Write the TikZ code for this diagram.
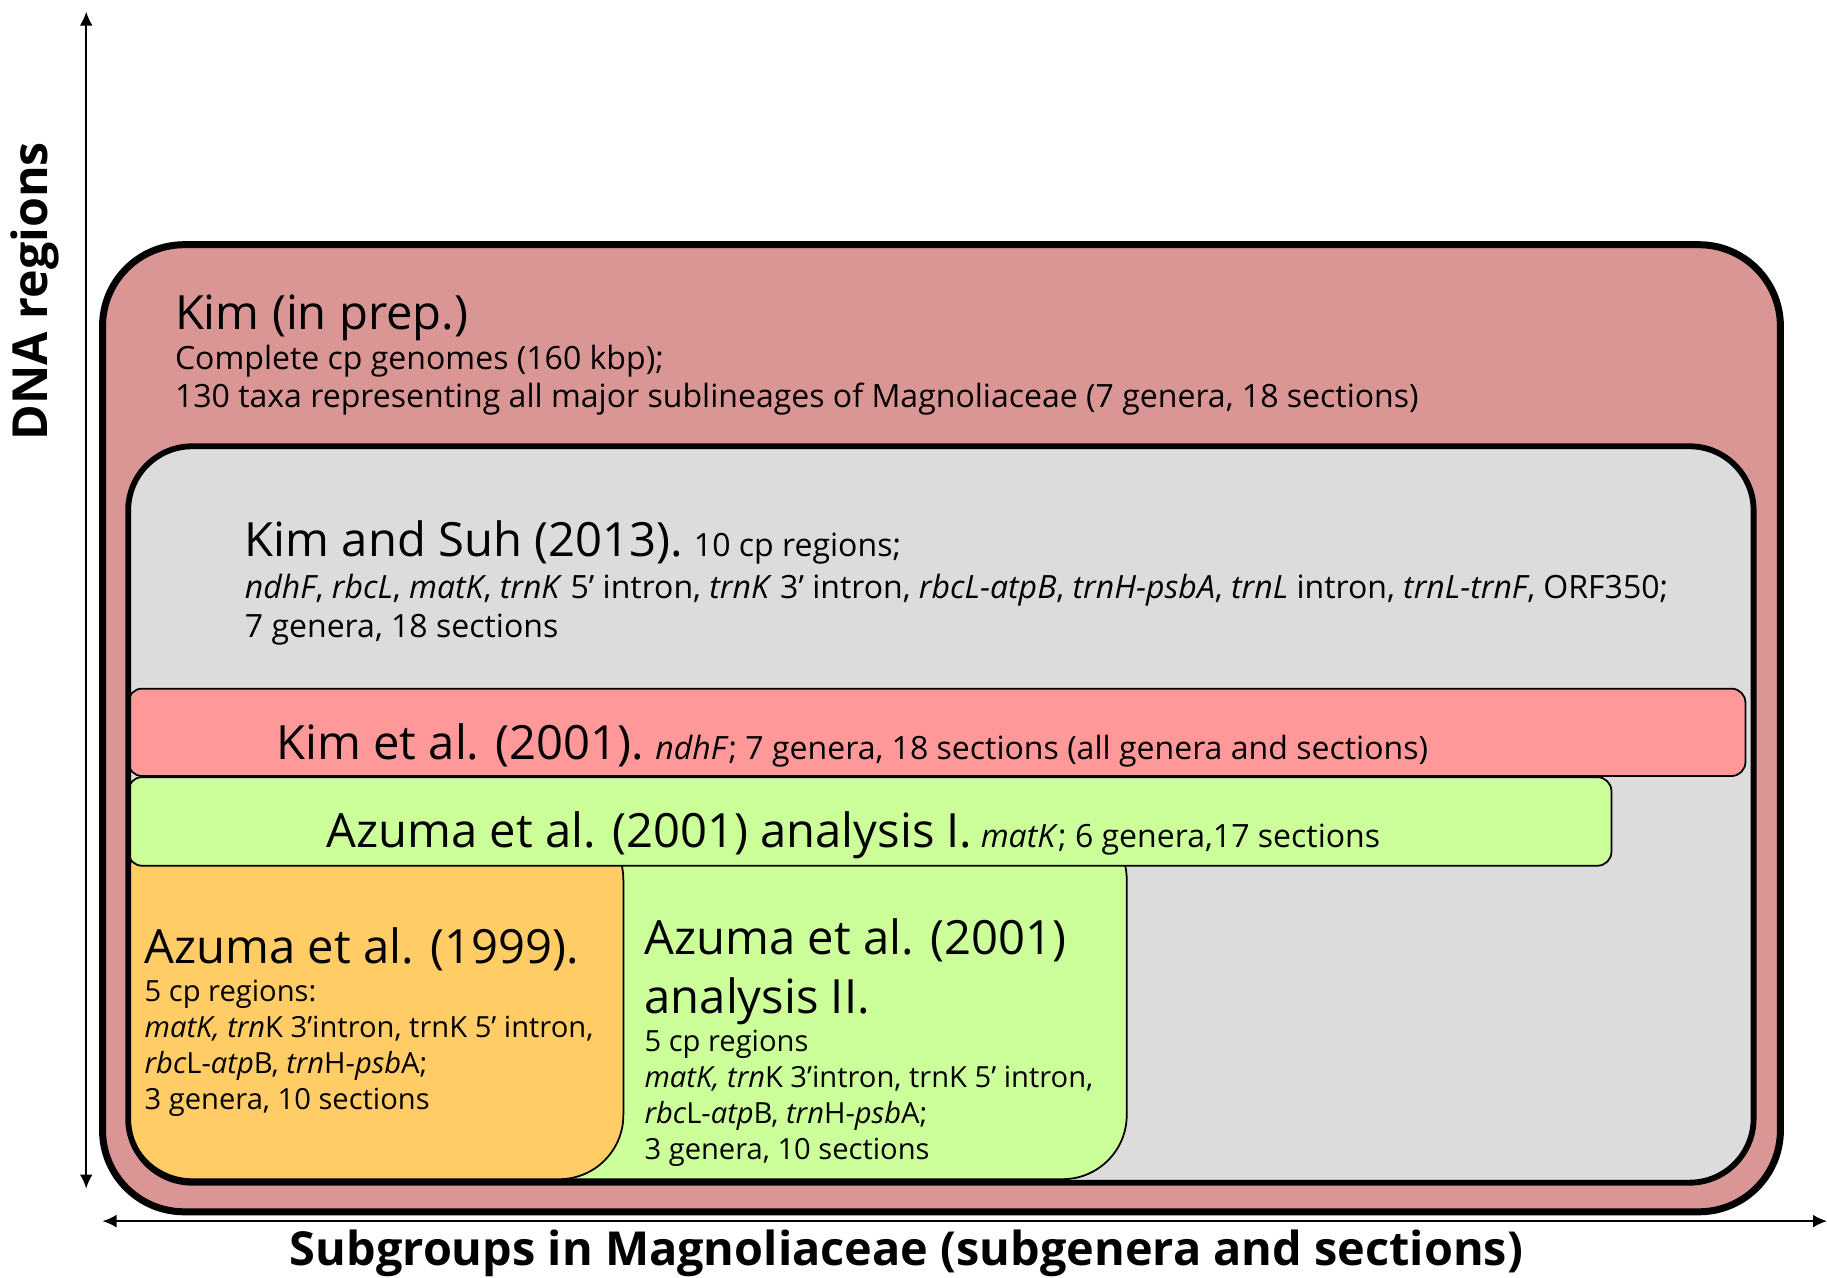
\documentclass[tikz,border=0pt]{standalone}
\usepackage{fontspec}
\setmainfont{Open Sans}
\usetikzlibrary{arrows.meta}
\definecolor{prepred}{HTML}{DA9694}
\definecolor{suhgray}{HTML}{DCDCDC}
\definecolor{ndhred}{HTML}{FF9999}
\definecolor{matgreen}{HTML}{CCFF99}
\definecolor{azorange}{HTML}{FFCC66}
\newcommand\headfont{\fontsize{40.5}{51}\selectfont}
\begin{document}
\begin{tikzpicture}[x=1pt,y=-1pt,>={Latex[length=12pt,width=11pt]},
    thinbox/.style={draw=black,line width=1.5pt},
    txt/.style={inner sep=0pt,anchor=base west,align=left,font=\fontsize{27.5}{33}\selectfont},
    lowtxt/.style={txt,font=\fontsize{25}{30.8}\selectfont},
    axlabel/.style={inner sep=0pt,font=\bfseries\fontsize{40.2}{46}\selectfont}]
\useasboundingbox (0,0) rectangle (1568,1096);
% axes
\coordinate (ybot) at (74,1020);
\coordinate (ytop) at (74,10);
\coordinate (xleft) at (88,1048);
\coordinate (xright) at (1568,1048);
\draw[<->,line width=1.5pt](ybot)--(ytop);
\draw[<->,line width=1.5pt](xleft)--(xright);
\node[axlabel,rotate=90,font=\bfseries\fontsize{41.5}{46}\selectfont] (ylab) at (30,250) {DNA regions};
\node[axlabel] (xlab) at (778,1076) {Subgroups in Magnoliaceae (subgenera and sections)};
% boxes
\filldraw[fill=prepred,line width=6pt,rounded corners=70] (88,210) rectangle (1528,1040);
\fill[suhgray,rounded corners=55] (110,383) rectangle (1505,1015);
\filldraw[thinbox,fill=matgreen,rounded corners=55] (110,700) rectangle (967,1012);
\filldraw[thinbox,fill=azorange,rounded corners=55] (110,700) rectangle (535,1012);
\filldraw[thinbox,fill=ndhred,rounded corners=12] (110,591) rectangle (1498,666);
\filldraw[thinbox,fill=matgreen,rounded corners=12] (110,667) rectangle (1383,743);
\draw[line width=5pt,rounded corners=55] (110,383) rectangle (1505,1015);
% texts
\node[txt] (prep) at (150,283) {\headfont Kim (in prep.)};
\node[txt] (preptxt) at (150,350) {Complete cp genomes (160 kbp);\\130 taxa representing all major sublineages of Magnoliaceae (7 genera, 18 sections)};
\node[txt] (suh) at (210,478) {{\headfont Kim and Suh (2013).} 10 cp regions;};
\node[txt] (suhtxt) at (210,547) {\textit{ndhF}, \textit{rbcL}, \textit{matK}, \textit{trnK} 5’ intron, \textit{trnK} 3’ intron, \textit{rbcL-atpB}, \textit{trnH-psbA}, \textit{trnL} intron, \textit{trnL-trnF}, ORF350;\\7 genera, 18 sections};
\node[txt] (kim01) at (237,652) {{\headfont Kim et al. (2001).} \textit{ndhF}; 7 genera, 18 sections (all genera and sections)};
\node[txt] (az1) at (280,727) {{\headfont Azuma et al. (2001) analysis I.} \textit{matK}; 6 genera,17 sections};
\node[txt] (az99) at (124,827) {\headfont Azuma et al. (1999).};
\node[lowtxt] (az99txt) at (124,952) {5 cp regions:\\\textit{matK, trn}K 3’intron, trnK 5’ intron,\\\textit{rbc}L-\textit{atp}B, \textit{trn}H-\textit{psb}A;\\3 genera, 10 sections};
\node[txt,font=\headfont] (az2) at (553,870) {Azuma et al. (2001)\\analysis II.};
\node[lowtxt] (az2txt) at (553,995) {5 cp regions\\\textit{matK, trn}K 3’intron, trnK 5’ intron,\\\textit{rbc}L-\textit{atp}B, \textit{trn}H-\textit{psb}A;\\3 genera, 10 sections};
\end{tikzpicture}
\end{document}
